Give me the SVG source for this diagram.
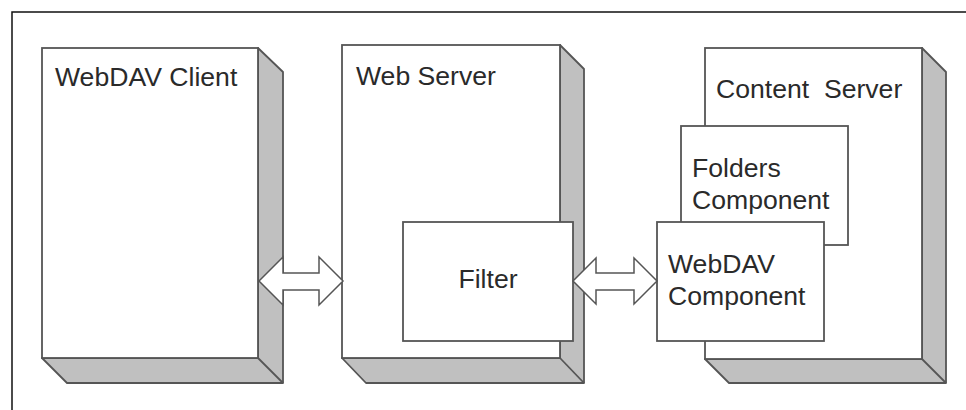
<svg xmlns="http://www.w3.org/2000/svg" width="966" height="410" viewBox="0 0 966 410">
<style>
.face{fill:#ffffff;stroke:#555555;stroke-width:1.8}
.shade{fill:#c0c0c0;stroke:#555555;stroke-width:1.8;stroke-linejoin:round}
.lbl{font-family:"Liberation Sans",Arial,sans-serif;font-size:26.6px;fill:#2a2a2a;white-space:pre}
.arrow{fill:#ffffff;stroke:#555555;stroke-width:1.5;stroke-linejoin:miter}
.frame{stroke:#111111;stroke-width:1.5;fill:none}
</style>
<rect width="966" height="410" fill="#ffffff"/>
<path class="frame" d="M12,410 V12 H966"/>

<g id="webdav-client">
<polygon class="shade" points="258,48 283,72 283,383 67,383 42,358 258,358"/>
<line x1="258" y1="358" x2="283" y2="383" stroke="#555555" stroke-width="1.8"/>
<rect class="face" x="42" y="48" width="216" height="310"/>
<text class="lbl" x="55" y="86">WebDAV Client</text>
</g>

<g id="web-server">
<polygon class="shade" points="560,45 584,69 584,383 366,383 342,358 560,358"/>
<line x1="560" y1="358" x2="584" y2="383" stroke="#555555" stroke-width="1.8"/>
<rect class="face" x="342" y="45" width="218" height="313"/>
<text class="lbl" x="356" y="85">Web Server</text>
</g>

<g id="filter">
<rect class="face" x="403" y="222" width="170" height="119"/>
<text class="lbl" x="488" y="288" text-anchor="middle">Filter</text>
</g>

<g id="content-server">
<polygon class="shade" points="922,48 946,72 946,383 729,383 705,359 922,359"/>
<line x1="922" y1="359" x2="946" y2="383" stroke="#555555" stroke-width="1.8"/>
<rect class="face" x="705" y="48" width="217" height="311"/>
<text class="lbl" x="716" y="98">Content  Server</text>
</g>

<g id="folders-component">
<rect class="face" x="681" y="126" width="167" height="119"/>
<text class="lbl" x="692" y="177">Folders</text>
<text class="lbl" x="692" y="209">Component</text>
</g>

<g id="webdav-component">
<rect class="face" x="657" y="222" width="167" height="119"/>
<text class="lbl" x="668" y="273">WebDAV</text>
<text class="lbl" x="668" y="305">Component</text>
</g>

<g id="connectors">
<polygon class="arrow" points="259,281 283,257 283,273 319,273 319,257 343,281 319,305 319,290 283,290 283,305"/>
<polygon class="arrow" points="573,281 596,258 596,273 634,273 634,258 657,281 634,304 634,290 596,290 596,304"/>
</g>
</svg>
